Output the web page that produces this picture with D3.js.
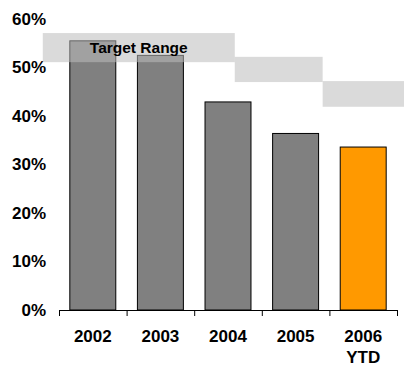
<!DOCTYPE html>
<html>
<head>
<meta charset="utf-8">
<script src="https://cdn.jsdelivr.net/npm/d3@7"></script>
<style>
  html, body { margin: 0; padding: 0; background: #fff; }
  svg { display: block; font-family: "Liberation Sans", Arial, sans-serif; font-weight: bold; }
</style>
</head>
<body>
<svg id="chart" width="404" height="367"></svg>
<script>
// Yearly values
const categories = ["2002", "2003", "2004", "2005", "2006\nYTD"];
const values = [0.555, 0.525, 0.429, 0.364, 0.336];
const highlight = [false, false, false, false, true];

// Target range steps: start/end in category slots, low/high percentage
const targetStart = [-0.24, 2.6, 3.9];
const targetEnd = [2.6, 3.9, 5.2];
const targetLow = [0.511, 0.470, 0.419];
const targetHigh = [0.571, 0.522, 0.472];
const targetLabel = "Target Range";

const yTicks = [0, 0.1, 0.2, 0.3, 0.4, 0.5, 0.6];

const svg = d3.select("#chart");
const plotLeft = 59, plotRight = 397, plotBottom = 310, plotTop = 19;

const x = d3.scaleBand().domain(categories).range([plotLeft, plotRight])
  .paddingInner(0.32).paddingOuter(0.16);
const slot = d3.scaleLinear().domain([0, categories.length]).range([plotLeft, plotRight]);
const y = d3.scaleLinear().domain([0, 0.6]).range([plotBottom, plotTop]);

// Y axis: labels only
const yAxis = svg.append("g").attr("transform", `translate(${plotLeft},0)`)
  .call(d3.axisLeft(y).tickValues(yTicks).tickFormat(d3.format(".0%")).tickSize(0).tickPadding(13));
yAxis.select(".domain").remove();
yAxis.selectAll("text").attr("font-size", 17).attr("font-weight", "bold")
  .attr("font-family", "Liberation Sans, Arial, sans-serif").attr("fill", "#000");

// Bars
svg.append("g").selectAll("rect").data(values).join("rect")
  .attr("x", (d, i) => x(categories[i]))
  .attr("y", d => y(d))
  .attr("width", x.bandwidth())
  .attr("height", d => y(0) - y(d))
  .attr("fill", (d, i) => highlight[i] ? "#FF9900" : "#808080")
  .attr("stroke", "#000")
  .attr("stroke-width", 1);

// Target range bands
svg.append("g").selectAll("rect").data(targetLow).join("rect")
  .attr("x", (d, i) => slot(targetStart[i]))
  .attr("width", (d, i) => slot(targetEnd[i]) - slot(targetStart[i]))
  .attr("y", (d, i) => y(targetHigh[i]))
  .attr("height", (d, i) => y(targetLow[i]) - y(targetHigh[i]))
  .attr("fill", "#bcbcbc")
  .attr("fill-opacity", 0.55);

svg.append("text")
  .attr("x", (slot(targetStart[0]) + slot(targetEnd[0])) / 2)
  .attr("y", y((targetLow[0] + targetHigh[0]) / 2))
  .attr("dy", "0.36em")
  .attr("text-anchor", "middle")
  .attr("font-size", 15.5)
  .attr("fill", "#000")
  .text(targetLabel);

// X axis with ticks on the slot boundaries
const xAxis = svg.append("g").attr("transform", `translate(0,${plotBottom})`)
  .call(d3.axisBottom(slot).tickValues(d3.range(categories.length + 1)).tickFormat("").tickSize(6).tickSizeOuter(6));
xAxis.select(".domain").attr("stroke", "#000").attr("stroke-width", 1);
xAxis.selectAll(".tick line").attr("stroke", "#000");

// Category labels
const labels = svg.append("g").selectAll("text").data(categories).join("text")
  .attr("x", d => x(d) + x.bandwidth() / 2)
  .attr("y", 341.5)
  .attr("text-anchor", "middle")
  .attr("font-size", 17)
  .attr("fill", "#000");
labels.each(function(d) {
  const t = d3.select(this);
  d.split("\n").forEach((line, k) => {
    t.append("tspan").attr("x", x(d) + x.bandwidth() / 2).attr("dy", k === 0 ? 0 : 21.5).text(line);
  });
});
</script>
</body>
</html>
